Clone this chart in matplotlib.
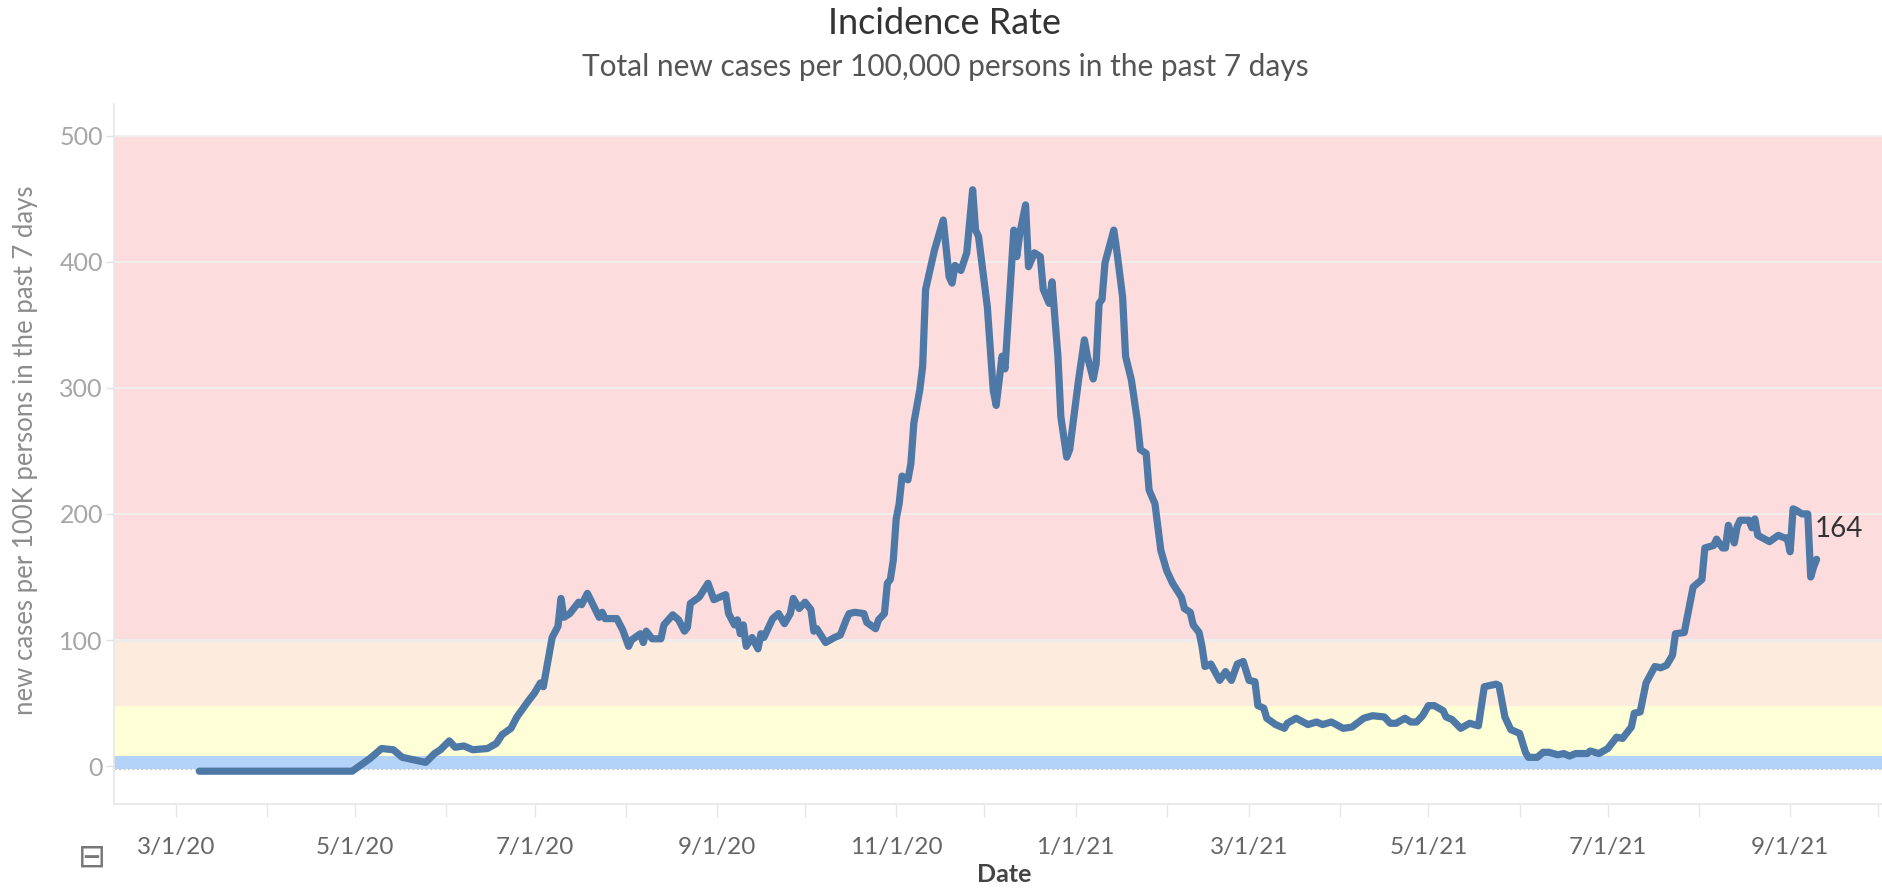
import matplotlib
matplotlib.use("Agg")
from matplotlib import pyplot as plt
import matplotlib.dates as mdates
import pandas as pd

plt.rcParams['font.family'] = ['Lato', 'DejaVu Sans']

# chart values
dates = [
    '2020-03-09', '2020-04-30', '2020-05-06', '2020-05-10', '2020-05-14', '2020-05-17',
    '2020-05-21', '2020-05-25', '2020-05-28', '2020-05-30', '2020-06-02', '2020-06-04',
    '2020-06-07', '2020-06-10', '2020-06-15', '2020-06-18', '2020-06-20', '2020-06-23',
    '2020-06-25', '2020-06-29', '2020-07-01', '2020-07-02', '2020-07-03', '2020-07-04',
    '2020-07-06', '2020-07-07', '2020-07-09', '2020-07-10', '2020-07-11', '2020-07-13',
    '2020-07-16', '2020-07-17', '2020-07-19', '2020-07-23', '2020-07-24', '2020-07-25',
    '2020-07-29', '2020-07-31', '2020-08-02', '2020-08-03', '2020-08-06', '2020-08-07',
    '2020-08-08', '2020-08-10', '2020-08-13', '2020-08-14', '2020-08-17', '2020-08-19',
    '2020-08-21', '2020-08-22', '2020-08-23', '2020-08-26', '2020-08-29', '2020-08-31',
    '2020-09-04', '2020-09-05', '2020-09-07', '2020-09-08', '2020-09-09', '2020-09-10',
    '2020-09-11', '2020-09-13', '2020-09-15', '2020-09-16', '2020-09-17', '2020-09-20',
    '2020-09-22', '2020-09-24', '2020-09-26', '2020-09-27', '2020-09-29', '2020-10-01',
    '2020-10-03', '2020-10-04', '2020-10-05', '2020-10-08', '2020-10-11', '2020-10-13',
    '2020-10-15', '2020-10-16', '2020-10-18', '2020-10-21', '2020-10-22', '2020-10-25',
    '2020-10-26', '2020-10-28', '2020-10-29', '2020-10-30', '2020-10-31', '2020-11-01',
    '2020-11-02', '2020-11-03', '2020-11-05', '2020-11-06', '2020-11-07', '2020-11-09',
    '2020-11-10', '2020-11-11', '2020-11-14', '2020-11-17', '2020-11-19', '2020-11-20',
    '2020-11-21', '2020-11-23', '2020-11-25', '2020-11-27', '2020-11-28', '2020-11-29',
    '2020-12-02', '2020-12-04', '2020-12-05', '2020-12-07', '2020-12-08', '2020-12-11',
    '2020-12-12', '2020-12-13', '2020-12-15', '2020-12-16', '2020-12-18', '2020-12-20',
    '2020-12-21', '2020-12-23', '2020-12-24', '2020-12-26', '2020-12-27', '2020-12-29',
    '2020-12-30', '2021-01-01', '2021-01-02', '2021-01-04', '2021-01-05', '2021-01-07',
    '2021-01-08', '2021-01-09', '2021-01-10', '2021-01-11', '2021-01-14', '2021-01-15',
    '2021-01-17', '2021-01-18', '2021-01-20', '2021-01-22', '2021-01-23', '2021-01-25',
    '2021-01-26', '2021-01-28', '2021-01-30', '2021-02-01', '2021-02-03', '2021-02-06',
    '2021-02-07', '2021-02-09', '2021-02-10', '2021-02-12', '2021-02-13', '2021-02-14',
    '2021-02-16', '2021-02-19', '2021-02-21', '2021-02-23', '2021-02-25', '2021-02-27',
    '2021-03-01', '2021-03-03', '2021-03-04', '2021-03-06', '2021-03-07', '2021-03-10',
    '2021-03-13', '2021-03-14', '2021-03-17', '2021-03-21', '2021-03-24', '2021-03-26',
    '2021-03-29', '2021-04-02', '2021-04-05', '2021-04-09', '2021-04-12', '2021-04-16',
    '2021-04-18', '2021-04-20', '2021-04-23', '2021-04-25', '2021-04-27', '2021-04-29',
    '2021-05-01', '2021-05-03', '2021-05-06', '2021-05-07', '2021-05-09', '2021-05-12',
    '2021-05-15', '2021-05-18', '2021-05-20', '2021-05-24', '2021-05-25', '2021-05-27',
    '2021-05-29', '2021-06-01', '2021-06-03', '2021-06-04', '2021-06-07', '2021-06-09',
    '2021-06-11', '2021-06-14', '2021-06-16', '2021-06-18', '2021-06-20', '2021-06-24',
    '2021-06-25', '2021-06-28', '2021-07-01', '2021-07-04', '2021-07-06', '2021-07-09',
    '2021-07-10', '2021-07-12', '2021-07-14', '2021-07-17', '2021-07-19', '2021-07-21',
    '2021-07-23', '2021-07-24', '2021-07-27', '2021-07-28', '2021-07-30', '2021-08-02',
    '2021-08-03', '2021-08-06', '2021-08-07', '2021-08-09', '2021-08-10', '2021-08-11',
    '2021-08-13', '2021-08-14', '2021-08-15', '2021-08-18', '2021-08-19', '2021-08-20',
    '2021-08-21', '2021-08-25', '2021-08-28', '2021-08-30', '2021-08-31', '2021-09-01',
    '2021-09-02', '2021-09-03', '2021-09-05', '2021-09-07', '2021-09-08', '2021-09-09',
    '2021-09-10',
]
rate = [
    -4, -4, 6, 14, 13, 7,
    5, 3, 10, 13, 20, 15,
    16, 13, 14, 18, 25, 30,
    39, 52, 58, 62, 66, 63,
    89, 102, 111, 133, 118, 121,
    130, 128, 137, 118, 122, 117,
    117, 108, 95, 100, 105, 98,
    107, 101, 101, 112, 120, 116,
    107, 110, 129, 134, 145, 132,
    136, 121, 112, 116, 105, 112,
    95, 102, 93, 105, 102, 117,
    121, 113, 121, 133, 125, 130,
    124, 107, 109, 98, 102, 104,
    116, 121, 122, 121, 114, 109,
    116, 121, 145, 148, 163, 196,
    208, 230, 227, 240, 272, 298,
    317, 378, 409, 433, 388, 383,
    397, 393, 407, 457, 425, 420,
    364, 298, 286, 325, 315, 425,
    404, 422, 445, 396, 407, 404,
    378, 367, 384, 325, 277, 245,
    251, 288, 306, 338, 325, 307,
    319, 367, 370, 399, 425, 409,
    372, 325, 306, 274, 251, 248,
    219, 208, 171, 155, 145, 134,
    125, 122, 112, 106, 95, 79,
    81, 68, 75, 68, 81, 83,
    68, 67, 48, 46, 38, 33,
    30, 34, 38, 33, 35, 33,
    35, 30, 31, 38, 40, 39,
    34, 34, 38, 35, 35, 40,
    48, 48, 44, 39, 37, 30,
    34, 32, 63, 65, 64, 39,
    29, 26, 11, 7, 7, 11,
    11, 9, 10, 8, 10, 10,
    12, 10, 14, 23, 22, 31,
    42, 43, 66, 79, 78, 80,
    88, 105, 106, 118, 142, 148,
    173, 175, 180, 173, 173, 191,
    177, 190, 195, 195, 189, 196,
    183, 178, 183, 181, 181, 170,
    204, 203, 200, 200, 150, 158,
    164,
]

# threshold bands (low, high, colour)
band_low = [-2.5, 8, 48, 100]
band_high = [8, 48, 100, 499]
band_colors = ['#b4d3f9', '#ffffd7', '#fdecdd', '#fcdcdc']

y_ticks = [0, 100, 200, 300, 400, 500]
x_tick_dates = ['2020-03-01', '2020-05-01', '2020-07-01', '2020-09-01', '2020-11-01',
                '2021-01-01', '2021-03-01', '2021-05-01', '2021-07-01', '2021-09-01']
x_tick_labels = ['3/1/20', '5/1/20', '7/1/20', '9/1/20', '11/1/20',
                 '1/1/21', '3/1/21', '5/1/21', '7/1/21', '9/1/21']
last_label = '164'

df = pd.DataFrame({'date': pd.to_datetime(dates), 'rate': rate})

fig = plt.figure(figsize=(18.83, 8.89), dpi=100)
ax = fig.add_axes([114 / 1883, 1 - 804 / 889, 1 - 114 / 1883, (804 - 104) / 889])

for lo, hi, c in zip(band_low, band_high, band_colors):
    ax.axhspan(lo, hi, color=c, lw=0, zorder=0)
ax.axhline(band_low[0], color='#c8c8c8', lw=0.8, ls=(0, (2, 2)), zorder=1)
ax.axhline(band_low[3], color='#ececec', lw=2.2, zorder=1)

for v in y_ticks[1:]:
    ax.axhline(v, color='#f1eeee', lw=1.4, zorder=1)

ax.plot(df['date'], df['rate'], color='#4e79a7', lw=5.2, solid_joinstyle='round',
        solid_capstyle='round', zorder=3)
ax.annotate(last_label, xy=(df['date'].iloc[-1], df['rate'].iloc[-1]),
            xytext=(-2, 30), textcoords='offset pixels', ha='left', va='center',
            fontsize=20, color='#333333', zorder=4)

ax.set_xlim(pd.Timestamp('2020-02-09'), pd.Timestamp('2021-10-02 14:00'))
ax.set_ylim(-30, 525)

ax.set_yticks(y_ticks)
ax.set_yticklabels([str(v) for v in y_ticks])
ax.set_xticks(pd.to_datetime(x_tick_dates))
ax.set_xticklabels(x_tick_labels)
ax.xaxis.set_minor_locator(mdates.MonthLocator())

ax.tick_params(axis='y', length=6, width=1, color='#e3e3e3', labelcolor='#a6a6a6',
               labelsize=18, pad=2)
ax.tick_params(axis='x', which='both', length=9, width=1, color='#e6e6e6',
               labelcolor='#666666', labelsize=17.5, pad=15)

for side in ['top', 'right']:
    ax.spines[side].set_visible(False)
for side in ['left', 'bottom']:
    ax.spines[side].set_color('#e6e6e6')
    ax.spines[side].set_linewidth(1.2)

fig.text(1004 / 1883, 1 - 875 / 889, 'Date', ha='center', va='center',
         fontsize=18, color='#444444', fontweight='bold')
fig.text(26 / 1883, 1 - 450 / 889, 'new cases per 100K persons in the past 7 days',
         rotation=90, ha='center', va='center', fontsize=18.5, color='#8c8c8c')
fig.text(945 / 1883, 1 - 23 / 889, 'Incidence Rate', ha='center', va='center',
         fontsize=26, color='#333333')
fig.text(945 / 1883, 1 - 67 / 889, 'Total new cases per 100,000 persons in the past 7 days',
         ha='center', va='center', fontsize=21.5, color='#555555')
fig.text(92 / 1883, 1 - 857 / 889, '\u229f', ha='center', va='center', fontsize=24,
         color='#777777', family='DejaVu Sans')

fig.savefig('out.png', dpi=100)
